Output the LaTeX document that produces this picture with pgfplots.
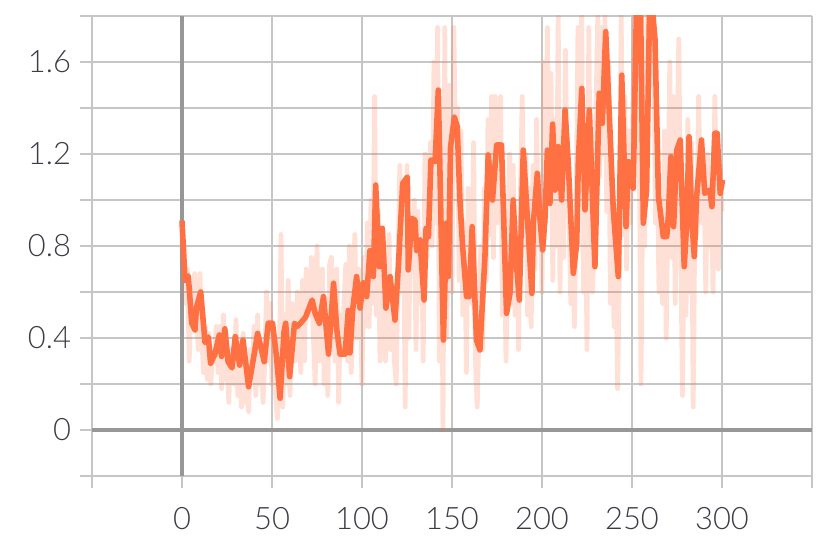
\documentclass[border=0pt]{standalone}
\usepackage{fontspec}
\setmainfont{Lato Light}
\usepackage{pgfplots}
\pgfplotsset{compat=1.18}
\definecolor{tbline}{HTML}{FF7043}
\definecolor{tbgrid}{HTML}{C6C6C6}
\definecolor{tbzero}{HTML}{979797}
\definecolor{tbtext}{HTML}{3C3C48}

\begin{document}
\begin{tikzpicture}
\useasboundingbox (-46bp,-42bp) rectangle (369.5bp,238bp);
\begin{axis}[scale only axis,width=360bp,height=230bp,
  xmin=-50,xmax=350,ymin=-0.2,ymax=1.8,
  axis line style={draw=none},
  xtick={-50,0,50,100,150,200,250,300,350},
  xticklabels={,0,50,100,150,200,250,300,},
  ytick={-0.2,0,0.2,0.4,0.6,0.8,1.0,1.2,1.4,1.6,1.8},
  yticklabels={,0,,0.4,,0.8,,1.2,,1.6,},
  xtick pos=left,ytick pos=left,tick align=outside,
  major tick length=6bp,
  tick style={tbgrid,line width=1.1bp},
  grid=major,grid style={tbgrid,line width=1.1bp},
  ticklabel style={font=\fontsize{15.5}{18}\selectfont,text=tbtext},
  xticklabel style={yshift=-6bp},
  yticklabel style={xshift=-1bp},
  /pgf/number format/assume math mode=true]
  % zero lines
  \draw[tbzero,line width=1.7bp] (axis cs:-50,0) -- (axis cs:350,0);
  \draw[tbzero,line width=1.7bp] (axis cs:0,-0.2) -- (axis cs:0,1.8);
  % raw values
  \addplot[tbline,opacity=0.22,line width=2.4bp,line join=round] coordinates {
    (0,0.9)(1,0.75)(2,0.55)(3,0.7)(4,0.3)(5,0.6)(6,0.45)(7,0.68)(8,0.55)(9,0.35)
    (10,0.68)(11,0.4)(12,0.25)(13,0.45)(14,0.22)(15,0.42)(16,0.2)(17,0.35)(18,0.3)(19,0.45)
    (20,0.25)(21,0.45)(22,0.18)(23,0.5)(24,0.22)(25,0.3)(26,0.12)(27,0.35)(28,0.35)(29,0.2)
    (30,0.48)(31,0.15)(32,0.38)(33,0.1)(34,0.42)(35,0.12)(36,0.3)(37,0.08)(38,0.35)(39,0.25)
    (40,0.45)(41,0.15)(42,0.5)(43,0.2)(44,0.38)(45,0.12)(46,0.3)(47,0.6)(48,0.3)(49,0.55)
    (50,0.2)(51,0.4)(52,0.15)(53,0.05)(54,0.25)(55,0.85)(56,0.1)(57,0.5)(58,0.2)(59,0.65)
    (60,0.15)(61,0.55)(62,0.5)(63,0.3)(64,0.6)(65,0.5)(66,0.25)(67,0.65)(68,0.3)(69,0.7)
    (70,0.55)(71,0.5)(72,0.75)(73,0.4)(74,0.2)(75,0.8)(76,0.3)(77,0.6)(78,0.7)(79,0.2)
    (80,0.5)(81,0.15)(82,0.72)(83,0.75)(84,0.5)(85,0.3)(86,0.7)(87,0.12)(88,0.5)(89,0.35)
    (90,0.55)(91,0.72)(92,0.3)(93,0.8)(94,0.25)(95,0.5)(96,0.85)(97,0.4)(98,0.7)(99,0.6)
    (100,0.2)(101,0.75)(102,0.45)(103,0.9)(104,0.45)(105,1.0)(106,0.55)(107,1.45)(108,0.5)(109,0.95)
    (110,0.3)(111,0.85)(112,0.6)(113,0.3)(114,0.45)(115,0.85)(116,0.35)(117,0.55)(118,0.3)(119,0.2)
    (120,0.7)(121,1.15)(122,0.6)(123,1.0)(124,0.1)(125,1.15)(126,0.4)(127,0.9)(128,0.75)(129,1.0)
    (130,0.35)(131,0.95)(132,0.55)(133,0.85)(134,0.3)(135,1.2)(136,0.75)(137,0.95)(138,1.25)(139,0.8)
    (140,1.6)(141,0.9)(142,1.75)(143,0.3)(144,1.2)(145,0.0)(146,1.75)(147,0.4)(148,0.9)(149,1.5)
    (150,0.6)(151,1.75)(152,1.2)(153,1.4)(154,0.65)(155,1.3)(156,0.5)(157,0.9)(158,0.25)(159,1.05)
    (160,0.7)(161,0.55)(162,1.25)(163,0.3)(164,0.1)(165,0.45)(166,0.8)(167,0.35)(168,1.05)(169,0.65)
    (170,1.35)(171,0.85)(172,1.45)(173,0.75)(174,1.45)(175,0.9)(176,1.2)(177,1.45)(178,0.5)(179,0.9)
    (180,0.3)(181,0.75)(182,1.2)(183,0.55)(184,1.15)(185,0.5)(186,0.9)(187,0.35)(188,1.0)(189,1.45)
    (190,0.85)(191,1.2)(192,0.5)(193,1.05)(194,0.45)(195,1.15)(196,0.7)(197,1.35)(198,0.8)(199,1.1)
    (200,0.6)(201,1.6)(202,0.9)(203,1.75)(204,1.1)(205,1.55)(206,0.65)(207,1.35)(208,0.8)(209,1.8)
    (210,0.6)(211,1.3)(212,0.75)(213,1.65)(214,1.05)(215,0.95)(216,0.55)(217,0.9)(218,0.45)(219,1.0)
    (220,1.75)(221,1.2)(222,1.8)(223,0.6)(224,1.15)(225,0.35)(226,1.75)(227,0.9)(228,0.6)(229,0.8)
    (230,1.4)(231,1.8)(232,1.1)(233,1.75)(234,1.2)(235,1.8)(236,0.95)(237,1.6)(238,0.55)(239,1.05)
    (240,0.45)(241,0.8)(242,0.18)(243,0.7)(244,1.8)(245,0.85)(246,1.45)(247,0.7)(248,1.3)(249,0.9)
    (250,1.2)(251,1.65)(252,1.9)(253,2.0)(254,1.3)(255,0.2)(256,1.1)(257,0.8)(258,1.65)(259,2.0)
    (260,1.95)(261,1.5)(262,1.8)(263,0.9)(264,1.2)(265,0.6)(266,1.0)(267,0.55)(268,1.3)(269,0.4)
    (270,1.0)(271,1.6)(272,0.75)(273,1.45)(274,0.55)(275,1.15)(276,1.7)(277,0.9)(278,0.15)(279,0.85)
    (280,0.5)(281,1.35)(282,0.6)(283,1.25)(284,0.1)(285,1.0)(286,0.85)(287,1.45)(288,1.05)(289,0.9)
    (290,1.15)(291,0.6)(292,1.2)(293,0.8)(294,1.1)(295,0.6)(296,1.45)(297,1.0)(298,0.7)(299,1.15)
    (300,0.95)};
  % smoothed values
  \addplot[tbline,line width=2.8bp,line join=round] coordinates {
    (0,0.91)(1.7,0.65)(3.5,0.67)(5.4,0.465)(7.2,0.435)(8.1,0.535)(10.4,0.60)(12.8,0.38)
    (14.6,0.405)(15.9,0.29)(18.3,0.33)(20.7,0.413)(22,0.32)(23.8,0.44)(25.6,0.297)(27.8,0.27)
    (29.6,0.406)(32,0.282)(33.9,0.391)(37,0.188)(39.4,0.297)(42,0.42)(43.3,0.377)(45.7,0.297)
    (47.9,0.464)(50.3,0.464)(52.5,0.318)(54.5,0.138)(56.7,0.428)(57.6,0.464)(59.8,0.232)
    (62.5,0.464)(64,0.45)(65.8,0.464)(68.6,0.49)(72.3,0.565)(74,0.507)(76.3,0.464)(78.6,0.58)
    (81.4,0.33)(84.2,0.638)(86,0.435)(87.8,0.33)(90.6,0.33)(92.4,0.52)(93.3,0.335)(94.8,0.52)
    (97,0.667)(98.9,0.53)(100.7,0.64)(102.6,0.58)(104.4,0.78)(106.3,0.667)(107.6,1.065)
    (109.6,0.71)(111.3,0.877)(113.3,0.53)(115.6,0.667)(118.3,0.478)(120.2,0.71)(122.6,1.072)
    (125.2,1.10)(125.7,0.696)(127.6,0.92)(129.4,0.913)(130.4,0.78)(132.2,0.826)(134.5,0.565)
    (135.6,0.877)(136.9,0.84)(138.3,1.174)(140.6,1.167)(142.4,1.478)(145.2,0.391)(147,0.9)
    (148,0.667)(149.2,1.23)(151.3,1.36)(152.9,1.32)(154.4,1.0)(155.9,0.797)(158.1,0.58)
    (159.6,0.58)(161.2,0.884)(163.6,0.391)(165.5,0.348)(168.3,0.754)(170.1,1.196)(172.5,1.0)
    (174.8,1.239)(177.5,1.239)(180.3,0.507)(182.2,0.594)(184,1.0)(185.6,0.739)(187.4,0.565)
    (189.6,1.217)(191.5,0.971)(194.4,0.594)(195.2,0.898)(197.4,1.116)(198.9,0.913)(200.4,0.783)
    (201.7,0.926)(203,1.217)(204.4,0.985)(205.9,1.33)(207.2,1.043)(209,1.232)(210.9,1.0)
    (212.8,1.391)(214.6,1.159)(217.4,0.681)(219.3,0.812)(220.2,1.174)(222.1,1.485)(223.9,0.957)
    (226.3,1.391)(229.4,0.710)(231.8,1.464)(233.5,1.333)(235.4,1.732)(236.9,1.464)(239.6,0.957)
    (242.4,0.667)(244.3,1.543)(246.7,0.884)(248,1.167)(250.7,1.051)(252.6,1.9)(254.5,2.0)
    (256.3,0.899)(258.1,1.043)(260,1.95)(262.8,1.696)(264.7,1.014)(267.4,0.841)(269.3,0.841)
    (270.2,0.928)(271.6,1.188)(273.1,0.884)(274.9,1.217)(276.8,1.261)(279,0.71)(280.3,0.884)
    (281.7,1.275)(283.1,0.928)(284.6,0.754)(285.9,1.014)(288.6,1.261)(290.4,1.029)(293.2,1.043)
    (294.4,0.971)(296,1.29)(297.3,1.29)(299,1.029)(300.3,1.087)};
\end{axis}
\end{tikzpicture}
\end{document}
